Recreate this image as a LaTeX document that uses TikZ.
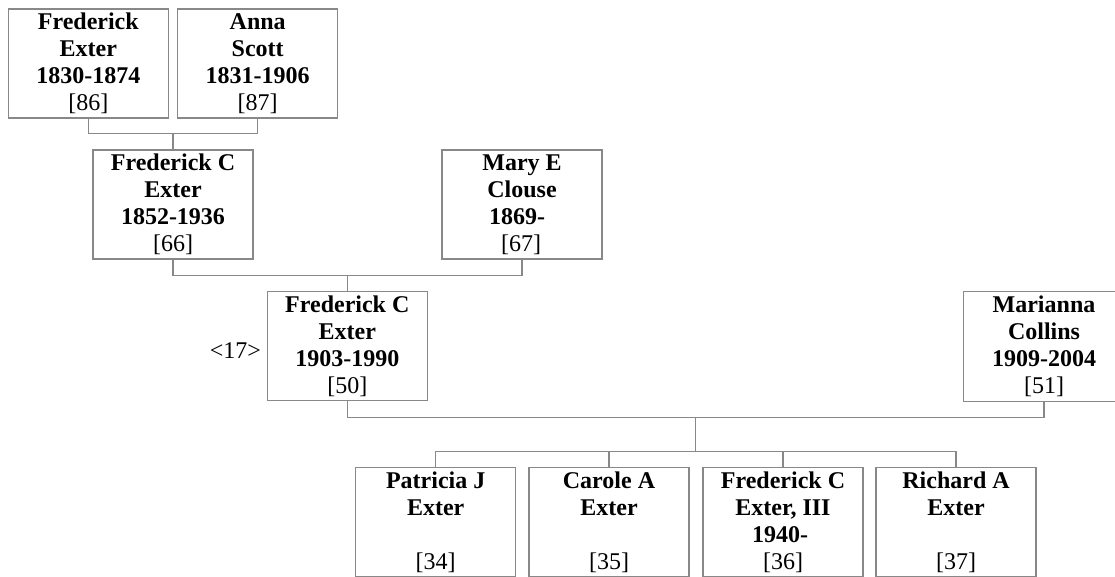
\documentclass[tikz,border=0pt]{standalone}
\usepackage{fontspec}
\setmainfont{Liberation Serif}
\usetikzlibrary{calc}
\definecolor{linegray}{RGB}{136,136,136}
\begin{document}
\begin{tikzpicture}[x=1pt,y=-1pt,
  person/.style={draw=linegray, line width=1.2pt, minimum width=160pt, minimum height=109pt,
    inner sep=0pt, align=center, font=\fontsize{24}{27.1}\selectfont},
  link/.style={draw=linegray, line width=1.2pt},
  refnum/.style={inner sep=0pt, font=\fontsize{24}{27.1}\selectfont}]
\useasboundingbox (0,0) rectangle (1115,577);
\clip (0,0) rectangle (1115,577);
% generation 1
\node[person] (b1) at (88.3,63.5) {\textbf{Frederick}\\\textbf{Exter}\\\textbf{1830-1874}\\{[86]}};
\node[person] (b2) at (257.7,63.5) {\textbf{Anna}\\\textbf{Scott}\\\textbf{1831-1906}\\{[87]}};
% generation 2
\node[person] (b3) at (173,204.5) {\textbf{Frederick C}\\\textbf{Exter}\\\textbf{1852-1936}\\{[66]}};
\node[person] (b4) at (522,204.5) {\textbf{Mary E}\\\textbf{Clouse}\\\textbf{1869-}\hspace*{10pt}\mbox{}\\{[67]}\hspace*{2pt}\mbox{}};
% generation 3
\node[person] (b5) at (347.3,346.3) {\textbf{Frederick C}\\\textbf{Exter}\\\textbf{1903-1990}\\{[50]}};
\node[person, draw=none] (b6) at (1044,346.3) {\textbf{Marianna}\\\textbf{Collins}\\\textbf{1909-2004}\\{[51]}};
\draw[link] (b6.north east) -- (b6.north west) -- (b6.south west) -- (b6.south east);
\node[refnum, anchor=east] (r17) at ([xshift=-5.5pt,yshift=-4pt]b5.west) {<17>};
% children
\node[person] (c1) at (435.7,522.2) {\textbf{Patricia J}\\\textbf{Exter}\\\mbox{}\\{[34]}};
\node[person] (c2) at (609,522.2) {\textbf{Carole A}\\\textbf{Exter}\\\mbox{}\\{[35]}};
\node[person] (c3) at (783,522.2) {\textbf{Frederick C}\\\textbf{Exter, III}\\\textbf{1940-}\hspace*{6pt}\mbox{}\\{[36]}};
\node[person] (c4) at (956,522.2) {\textbf{Richard A}\\\textbf{Exter}\\\mbox{}\\{[37]}};
% junctions
\path (b3.north) ++(0,-16) coordinate (j1);
\path (b5.north) ++(0,-16) coordinate (j2);
\path (b5.south) ++(0,15.7) coordinate (j3a);
\path ($(b5.south)!0.5!(b6.south)$) coordinate (jm);
\coordinate (j3) at (jm |- j3a);
\path (c1.north) ++(0,-15.7) coordinate (j4a);
\coordinate (j4) at (jm |- j4a);
% connectors
\draw[link] (b1.south) |- (j1) -| (b2.south);
\draw[link] (j1) -- (b3.north);
\draw[link] (b3.south) |- (j2) -| (b4.south);
\draw[link] (j2) -- (b5.north);
\draw[link] (b5.south) |- (j3) -| (b6.south);
\draw[link] (j3) -- (j4);
\draw[link] (c1.north) |- (j4) -| (c4.north);
\draw[link] (c2.north) -- (c2.north |- j4);
\draw[link] (c3.north) -- (c3.north |- j4);
\end{tikzpicture}
\end{document}
